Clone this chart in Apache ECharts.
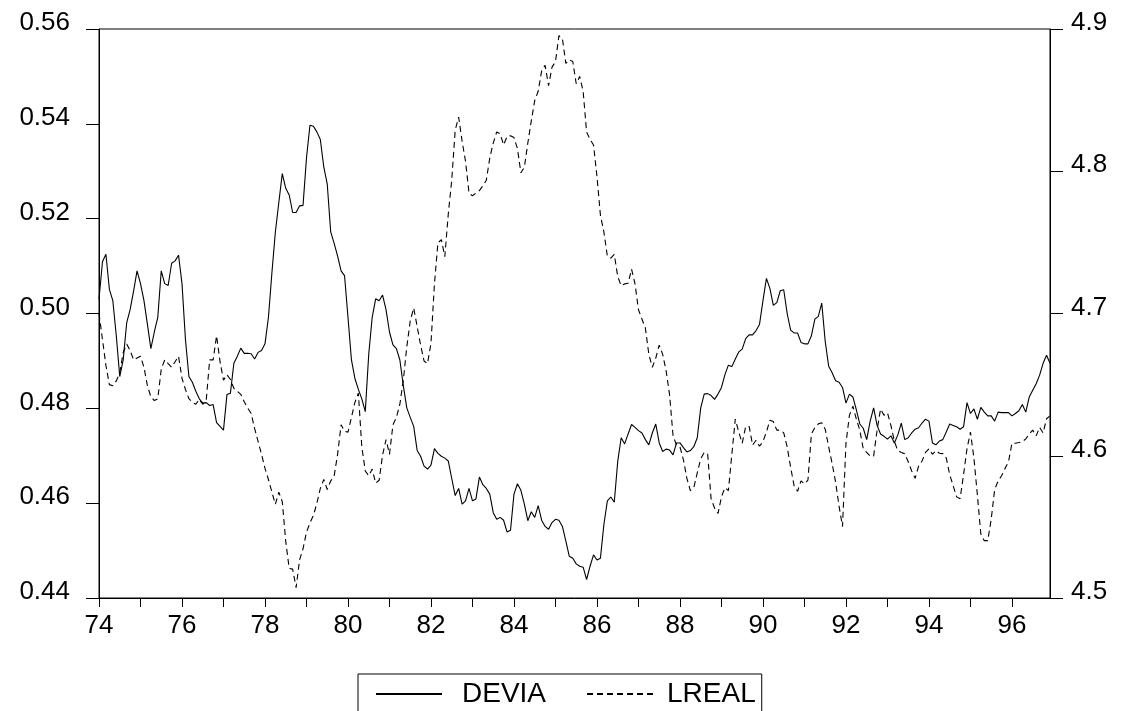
<!DOCTYPE html>
<html>
<head>
<meta charset="utf-8">
<script src="https://cdn.jsdelivr.net/npm/echarts@6/dist/echarts.min.js"></script>
<style>html,body{margin:0;padding:0;background:#fff;}#chart{width:1122px;height:711px;}</style>
</head>
<body>
<div id="chart"></div>
<script>
// Monthly observations 1974M01 - 1996M12
const startYear = 1974;
const endYear = 1996;
const seriesNames = ["DEVIA", "LREAL"];
const leftTicks = [0.44, 0.46, 0.48, 0.50, 0.52, 0.54, 0.56];
const rightTicks = [4.5, 4.6, 4.7, 4.8, 4.9];

const devia = [
0.503,0.5109,0.5125,0.5051,0.5027,0.4953,0.4867,0.4902,0.498,0.5008,0.5047,0.509,
0.5063,0.5027,0.4977,0.4926,0.4961,0.4992,0.509,0.5063,0.5059,0.5106,0.5111,0.5123,
0.5063,0.4945,0.4867,0.4855,0.4836,0.482,0.4811,0.4812,0.4806,0.4808,0.477,0.4762,
0.4754,0.4829,0.4832,0.4895,0.491,0.4927,0.4916,0.4916,0.4915,0.4904,0.4918,0.4922,
0.4936,0.4992,0.5086,0.5172,0.5234,0.5295,0.5264,0.525,0.5213,0.5213,0.5227,0.5228,
0.5328,0.5397,0.5395,0.5383,0.5367,0.5309,0.5273,0.5172,0.5148,0.5121,0.509,0.508,
0.4992,0.4902,0.4863,0.484,0.482,0.4793,0.4914,0.4992,0.5031,0.5027,0.5039,0.5008,
0.4961,0.4934,0.4926,0.4902,0.4848,0.4801,0.4781,0.4762,0.4711,0.4699,0.4678,0.4672,
0.468,0.4715,0.4705,0.4699,0.4695,0.4689,0.4652,0.4616,0.4631,0.4598,0.4605,0.4631,
0.4605,0.4609,0.4655,0.4639,0.4631,0.4619,0.458,0.4566,0.457,0.4564,0.4539,0.4543,
0.4619,0.4641,0.4627,0.4598,0.4563,0.4582,0.457,0.4595,0.4564,0.4551,0.4545,0.4559,
0.4566,0.4564,0.4551,0.452,0.4488,0.4484,0.4472,0.4467,0.4465,0.4439,0.4467,0.4491,
0.448,0.4484,0.4555,0.4605,0.4613,0.4602,0.4688,0.4738,0.4725,0.4746,0.4766,0.476,
0.4753,0.4748,0.4734,0.4723,0.4748,0.4767,0.4727,0.4709,0.4714,0.4712,0.4702,0.4727,
0.4727,0.4717,0.4708,0.4711,0.4719,0.4738,0.4801,0.483,0.4831,0.4827,0.4819,0.483,
0.4844,0.4871,0.4891,0.4888,0.4904,0.4919,0.4925,0.4947,0.4955,0.4955,0.4964,0.4977,
0.5027,0.5074,0.5053,0.5017,0.5023,0.5048,0.505,0.5,0.4965,0.4959,0.4959,0.4939,
0.4936,0.4936,0.4953,0.4988,0.4994,0.5022,0.4941,0.4889,0.4875,0.4858,0.4855,0.4844,
0.4811,0.483,0.4824,0.4797,0.4767,0.4758,0.4734,0.4773,0.4801,0.4764,0.4746,0.4741,
0.4735,0.4742,0.4727,0.4744,0.4769,0.4734,0.4738,0.4748,0.4756,0.4759,0.4769,0.4777,
0.4773,0.4727,0.4723,0.4731,0.4734,0.475,0.4767,0.4764,0.4761,0.4756,0.4761,0.4812,
0.4789,0.4799,0.4777,0.4802,0.4792,0.4784,0.4784,0.4773,0.4792,0.4791,0.4791,0.4791,
0.4784,0.4789,0.4795,0.4808,0.4792,0.4824,0.4838,0.4852,0.487,0.4895,0.4912,0.4895
];

const lreal = [
4.700,4.6818,4.6635,4.650,4.6492,4.6526,4.6583,4.6726,4.6786,4.674,4.6674,4.6687,
4.670,4.6622,4.6492,4.6414,4.6388,4.6401,4.6609,4.6674,4.6648,4.6622,4.6661,4.670,
4.6544,4.6466,4.6401,4.6375,4.6362,4.6396,4.6362,4.6388,4.6674,4.6674,4.6844,4.6661,
4.6531,4.657,4.6536,4.6474,4.6453,4.6432,4.638,4.6336,4.6297,4.6192,4.6101,4.601,
4.5911,4.5833,4.5744,4.5659,4.5744,4.5677,4.5398,4.5208,4.5203,4.5073,4.5268,4.5346,
4.5463,4.5528,4.558,4.5666,4.5771,4.5833,4.5763,4.5823,4.5859,4.601,4.6218,4.6172,
4.6166,4.627,4.6375,4.644,4.6062,4.5893,4.5859,4.5906,4.5807,4.5828,4.6005,4.6114,
4.601,4.6218,4.627,4.6362,4.6531,4.6765,4.6948,4.7039,4.6909,4.6778,4.6666,4.6648,
4.6791,4.7208,4.7495,4.752,4.740,4.770,4.7937,4.8289,4.838,4.8211,4.8068,4.7846,
4.7828,4.7846,4.7864,4.7898,4.7937,4.8093,4.8198,4.8276,4.8263,4.8185,4.8245,4.825,
4.8237,4.8159,4.7989,4.8028,4.8198,4.8354,4.8497,4.8562,4.8706,4.8745,4.8601,4.8732,
4.8771,4.8953,4.8932,4.8758,4.8784,4.8771,4.8615,4.8667,4.8562,4.8276,4.8224,4.8185,
4.7963,4.769,4.7573,4.7403,4.739,4.7416,4.726,4.7195,4.7208,4.7213,4.7312,4.7208,
4.7026,4.6961,4.6896,4.6713,4.6622,4.6687,4.6778,4.6713,4.6596,4.6427,4.6141,4.6075,
4.6062,4.5971,4.5841,4.5755,4.5776,4.588,4.5979,4.6023,4.6015,4.5697,4.5632,4.5594,
4.5711,4.5776,4.5755,4.601,4.6258,4.6166,4.6088,4.6206,4.6206,4.6075,4.6109,4.6067,
4.6101,4.6166,4.625,4.624,4.618,4.618,4.6161,4.6062,4.5919,4.5789,4.575,4.5823,
4.5802,4.5828,4.6153,4.6198,4.6224,4.6232,4.6187,4.6062,4.5945,4.5815,4.5646,4.5502,
4.6088,4.6284,4.6349,4.6258,4.618,4.6049,4.6023,4.5997,4.5997,4.618,4.6328,4.6284,
4.6302,4.6213,4.6101,4.6036,4.6023,4.6015,4.5958,4.5893,4.5841,4.5927,4.5963,4.6023,
4.6049,4.601,4.6036,4.6018,4.6015,4.5984,4.5867,4.5789,4.5711,4.5698,4.5867,4.6049,
4.6166,4.5984,4.5724,4.545,4.5403,4.5403,4.5554,4.5763,4.5823,4.5859,4.5911,4.5958,
4.6088,4.6088,4.6093,4.6099,4.6119,4.6153,4.618,4.614,4.620,4.616,4.626,4.628
];

const categories = [];
for (let y = startYear; y <= endYear; y++) {
  for (let m = 1; m <= 12; m++) categories.push(y + "M" + (m < 10 ? "0" + m : m));
}

const FONT = "'Liberation Sans', Arial, sans-serif";
const chart = echarts.init(document.getElementById('chart'), null, {renderer: 'canvas'});
chart.setOption({
  animation: false,
  backgroundColor: '#fff',
  grid: {left: 99, right: 72, top: 29, bottom: 113, show: true, borderColor: '#000', borderWidth: 1, backgroundColor: 'transparent'},
  legend: {
    data: [
      {name: seriesNames[0], textStyle: {padding: [0, 0, 0, 15]}},
      {name: seriesNames[1], textStyle: {padding: [0, 0, 0, 9]}}
    ],
    left: 358, top: 674,
    orient: 'horizontal',
    itemWidth: 66, itemHeight: 26, itemGap: 40,
    padding: [6, 6, 30, 17],
    borderColor: '#000', borderWidth: 1,
    itemStyle: {opacity: 0},
    textStyle: {fontFamily: FONT, fontSize: 28, color: '#000'}
  },
  xAxis: {
    type: 'category', data: categories, boundaryGap: false,
    axisLine: {show: true, lineStyle: {color: '#000', width: 1}},
    axisTick: {show: true, inside: false, length: 9, interval: (i) => i % 12 === 0, lineStyle: {color: '#000'}},
    axisLabel: {interval: (i) => i % 24 === 0, margin: 15, color: '#000', fontFamily: FONT, fontSize: 26,
      formatter: (v) => v.slice(2, 4)},
    splitLine: {show: false}
  },
  yAxis: [
    {type: 'value', min: leftTicks[0], max: leftTicks[leftTicks.length - 1], interval: 0.02, position: 'left',
      axisLine: {show: true, lineStyle: {color: '#000'}},
      axisTick: {show: true, inside: false, length: 13, lineStyle: {color: '#000'}},
      axisLabel: {margin: 29, color: '#000', fontFamily: FONT, fontSize: 26, verticalAlign: 'bottom', lineHeight: 12,
        formatter: (v) => v.toFixed(2)},
      splitLine: {show: false}},
    {type: 'value', min: rightTicks[0], max: rightTicks[rightTicks.length - 1], interval: 0.1, position: 'right',
      axisLine: {show: true, lineStyle: {color: '#000'}},
      axisTick: {show: true, inside: false, length: 13, lineStyle: {color: '#000'}},
      axisLabel: {margin: 21, color: '#000', fontFamily: FONT, fontSize: 26, verticalAlign: 'bottom', lineHeight: 12,
        formatter: (v) => v.toFixed(1)},
      splitLine: {show: false}}
  ],
  series: [
    {name: seriesNames[0], type: 'line', yAxisIndex: 0, data: devia, symbol: 'none', showSymbol: false,
      lineStyle: {color: '#000', width: 1.1, type: 'solid'}, itemStyle: {color: '#000'}},
    {name: seriesNames[1], type: 'line', yAxisIndex: 1, data: lreal, symbol: 'none', showSymbol: false,
      lineStyle: {color: '#000', width: 1.1, type: [6, 4]}, itemStyle: {color: '#000'}}
  ]
});
</script>
</body>
</html>
